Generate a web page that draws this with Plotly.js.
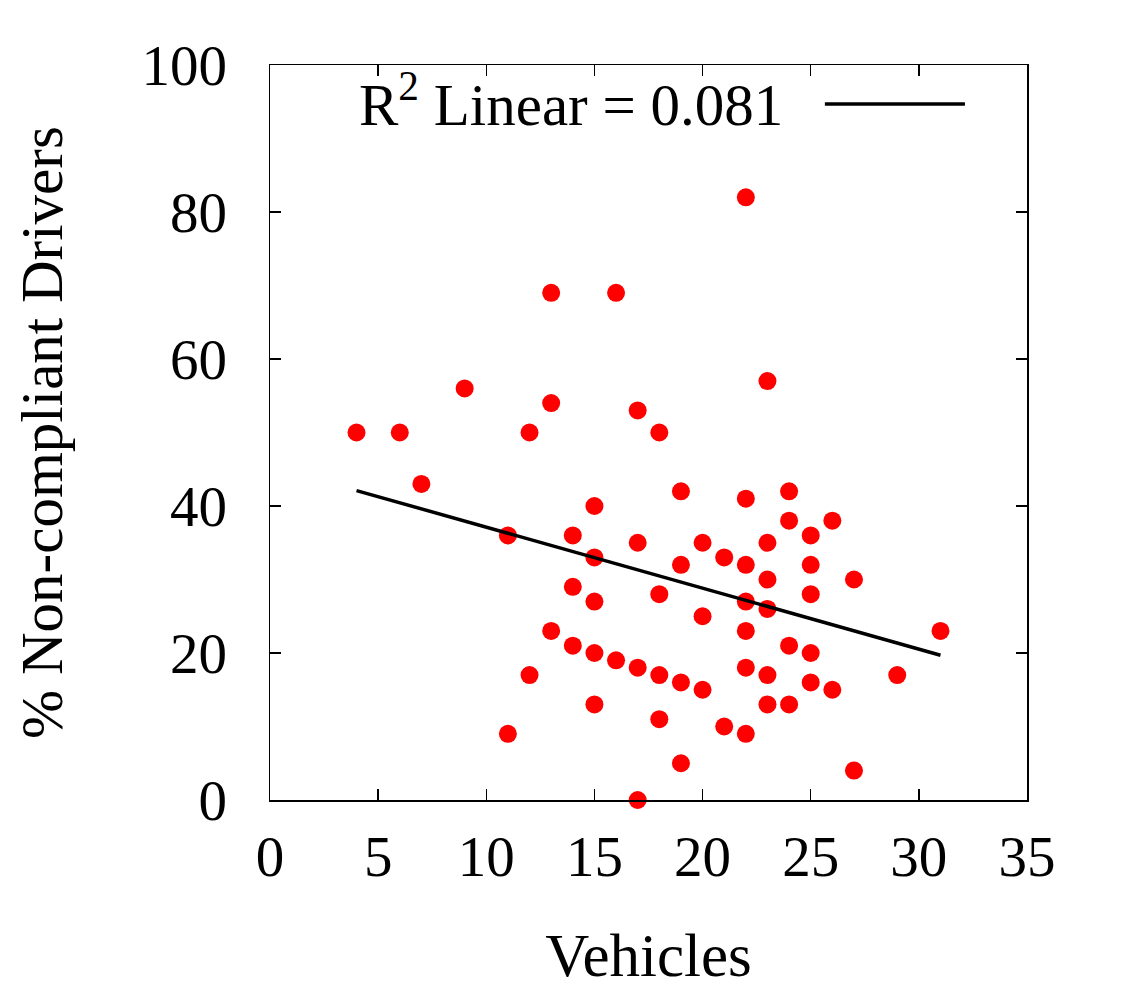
<!DOCTYPE html>
<html>
<head>
<meta charset="utf-8">
<script src="https://cdn.plot.ly/plotly-3.0.1.min.js"></script>
<style>
  body { margin: 0; background: #fff; }
  #plot { width: 1124px; height: 1000px; }
</style>
</head>
<body>
<div id="plot"></div>
<script>
// vehicles per observation
var vehicles = [4, 6, 7, 9, 11, 11, 12, 12, 13, 13, 13, 14, 14, 14, 15, 15, 15, 15, 15,
  16, 16, 17, 17, 17, 17, 18, 18, 18, 18, 19, 19, 19, 19, 20, 20, 20, 21, 21,
  22, 22, 22, 22, 22, 22, 22, 23, 23, 23, 23, 23, 23, 24, 24, 24, 24,
  25, 25, 25, 25, 25, 26, 26, 27, 27, 29, 31];
// % non-compliant drivers
var nonCompliant = [50, 50, 43, 56, 36, 9, 50, 17, 69, 54, 23, 36, 29, 21, 40, 33, 27, 20, 13,
  69, 19, 53, 35, 18, 0, 50, 28, 17, 11, 42, 32, 16, 5, 35, 25, 15, 33, 10,
  82, 41, 32, 27, 23, 18, 9, 57, 35, 30, 26, 17, 13, 42, 38, 21, 13,
  36, 32, 28, 20, 16, 38, 15, 30, 4, 17, 23];

// fit line as drawn in the chart
var fitX = [4, 31];
var fitY = [42.1, 19.7];
var fitLabel = 'R<sup>2</sup> Linear = 0.081';

var xTicks = [0, 5, 10, 15, 20, 25, 30, 35];
var yTicks = [0, 20, 40, 60, 80, 100];

var serif = 'Liberation Serif, Times New Roman, serif';

var traces = [
  {
    x: vehicles,
    y: nonCompliant,
    type: 'scatter',
    mode: 'markers',
    marker: { color: '#ff0000', size: 18 },
    cliponaxis: false,
    showlegend: false
  },
  {
    x: fitX,
    y: fitY,
    type: 'scatter',
    mode: 'lines',
    line: { color: '#000000', width: 3.5 },
    showlegend: false
  }
];

var layout = {
  width: 1124,
  height: 1000,
  paper_bgcolor: '#ffffff',
  plot_bgcolor: '#ffffff',
  font: { family: serif, size: 56, color: '#000' },
  margin: { l: 270, r: 97, t: 65, b: 200 },
  showlegend: false,
  xaxis: {
    range: [0, 35],
    tickvals: xTicks,
    ticks: 'inside',
    ticklen: 11,
    tickwidth: 1.5,
    tickcolor: '#000',
    showline: true,
    linecolor: '#000',
    linewidth: 1.5,
    mirror: 'ticks',
    showgrid: false,
    zeroline: false,
    ticklabelstandoff: 6,
    tickfont: { family: serif, size: 57 },
    title: { text: 'Vehicles', font: { family: serif, size: 61 }, standoff: 46 }
  },
  yaxis: {
    range: [0, 100],
    tickvals: yTicks,
    ticks: 'inside',
    ticklen: 11,
    tickwidth: 1.5,
    tickcolor: '#000',
    showline: true,
    linecolor: '#000',
    linewidth: 1.5,
    mirror: 'ticks',
    showgrid: false,
    zeroline: false,
    ticklabelstandoff: 30,
    tickfont: { family: serif, size: 57 },
    title: { text: '% Non-compliant Drivers', font: { family: serif, size: 59 }, standoff: 60 }
  },
  annotations: [
    {
      xref: 'paper', yref: 'paper',
      x: 0.68, y: 0.952,
      xanchor: 'right', yanchor: 'middle',
      text: fitLabel,
      showarrow: false,
      font: { family: serif, size: 59, color: '#000' }
    }
  ],
  shapes: [
    {
      type: 'line', xref: 'paper', yref: 'paper',
      x0: 0.733, x1: 0.918, y0: 0.947, y1: 0.947,
      line: { color: '#000', width: 3.5 }
    }
  ]
};

Plotly.newPlot('plot', traces, layout, { staticPlot: true });
</script>
</body>
</html>
